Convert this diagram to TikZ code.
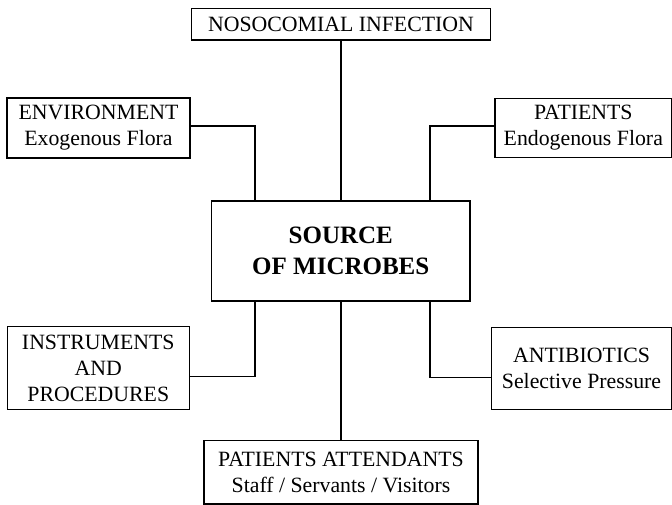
\documentclass[tikz,border=0pt]{standalone}
\usepackage{fontspec}
\setmainfont{Liberation Serif}
\begin{document}
\begin{tikzpicture}[x=1pt,y=-1pt,
  box/.style={draw, line width=1.25pt, inner sep=0pt, align=center, font=\fontsize{21.8}{26}\selectfont},
  bigbox/.style={draw, line width=1.25pt, inner sep=0pt, align=center, font=\fontsize{25}{30.6}\selectfont\bfseries},
  conn/.style={line width=1.25pt}]
\useasboundingbox (0,0) rectangle (672,505);
\node[box, minimum width=299pt, minimum height=31.5pt] (noso) at (341,24.25) {NOSOCOMIAL INFECTION};
\node[box, minimum width=183pt, minimum height=60pt] (env) at (98.5,128) {ENVIRONMENT\\Exogenous Flora};
\node[box, minimum width=176.5pt, minimum height=59pt] (pat) at (583.3,128) {PATIENTS\\Endogenous Flora};
\node[bigbox, minimum width=258.5pt, minimum height=100pt] (ctr) at (340.75,251) {SOURCE\\OF MICROBES};
\node[box, minimum width=182pt, minimum height=82.6pt] (instr) at (98.3,368) {INSTRUMENTS\\AND\\PROCEDURES};
\node[box, minimum width=180pt, minimum height=81.6pt] (anti) at (581.5,368.5) {ANTIBIOTICS\\Selective Pressure};
\node[box, minimum width=274pt, minimum height=63.3pt] (pa) at (341,472.4) {PATIENTS ATTENDANTS\\Staff / Servants / Visitors};
\draw[conn] (noso.south) -- (noso.south |- ctr.north);
\draw[conn] ([yshift=2pt]env.east) -| ([xshift=-85.75pt]ctr.north);
\draw[conn] ([yshift=2pt]pat.west) -| ([xshift=89.25pt]ctr.north);
\draw[conn] ([yshift=-8.7pt]instr.east) -| ([xshift=-85.75pt]ctr.south);
\draw[conn] ([yshift=-8.8pt]anti.west) -| ([xshift=89.25pt]ctr.south);
\draw[conn] (pa.north) -- (pa.north |- ctr.south);
\end{tikzpicture}
\end{document}
